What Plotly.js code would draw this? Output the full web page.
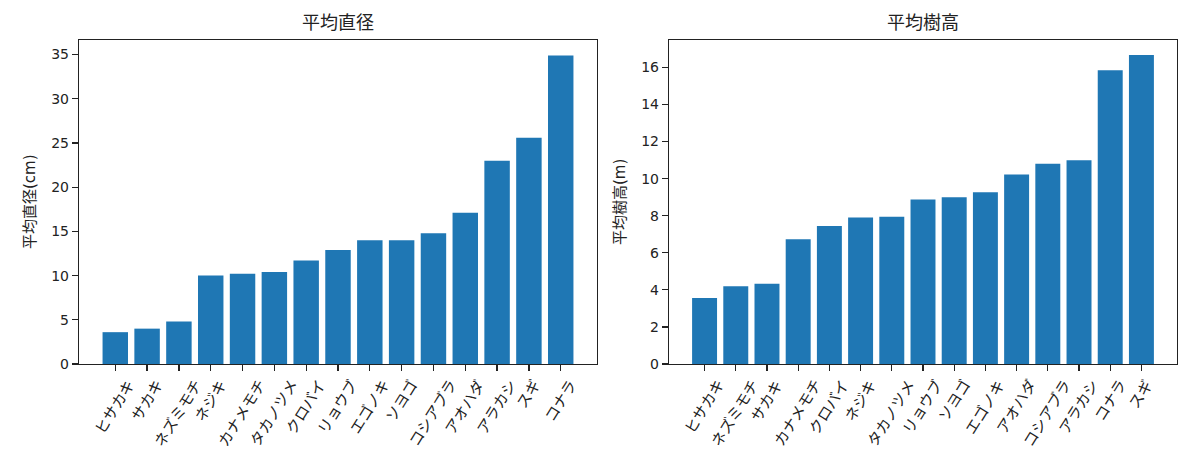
<!DOCTYPE html>
<html>
<head>
<meta charset="utf-8">
<script src="https://cdn.plot.ly/plotly-3.0.1.min.js"></script>
<style>
  html, body { margin: 0; padding: 0; background: #fff; }
  #chart { width: 1200px; height: 465px; }
</style>
</head>
<body>
<div id="chart"></div>
<script>
// 平均直径 (cm), sorted
const diamSpecies = ['ヒサカキ', 'サカキ', 'ネズミモチ', 'ネジキ', 'カナメモチ', 'タカノツメ', 'クロバイ',
  'リョウブ', 'エゴノキ', 'ソヨゴ', 'コシアブラ', 'アオハダ', 'アラカシ', 'スギ', 'コナラ'];
const diamValues = [3.6, 4.0, 4.8, 10.0, 10.2, 10.4, 11.7, 12.9, 14.0, 14.0, 14.8, 17.1, 23.0, 25.6, 34.9];

// 平均樹高 (m), sorted
const heightSpecies = ['ヒサカキ', 'ネズミモチ', 'サカキ', 'カナメモチ', 'クロバイ', 'ネジキ', 'タカノツメ',
  'リョウブ', 'ソヨゴ', 'エゴノキ', 'アオハダ', 'コシアブラ', 'アラカシ', 'コナラ', 'スギ'];
const heightValues = [3.56, 4.2, 4.33, 6.73, 7.45, 7.9, 7.95, 8.87, 8.99, 9.26, 10.23, 10.81, 10.99, 15.85, 16.67];

const BLUE = '#1f77b4';
const jpFont = 'DejaVu Sans, "Noto Sans CJK JP", sans-serif';
const yDom = [1 - 364 / 465, 1 - 40 / 465];

function xLabels(cats, xref) {
  return cats.map(c => ({
    x: c, xref: xref, y: yDom[0], yref: 'paper', yshift: -10,
    text: c, showarrow: false, textangle: -58,
    xanchor: 'center', yanchor: 'top',
    font: { family: jpFont, size: 15, color: '#222' }
  }));
}

function yTitle(text, xpx) {
  return {
    text: text, x: xpx / 1200, y: (yDom[0] + yDom[1]) / 2, xref: 'paper', yref: 'paper',
    showarrow: false, textangle: -90, xanchor: 'center', yanchor: 'middle',
    font: { family: jpFont, size: 15, color: '#222' }
  };
}

function plotTitle(text, xmid) {
  return {
    text: text, x: xmid / 1200, y: yDom[1], xref: 'paper', yref: 'paper', yshift: 5,
    showarrow: false, xanchor: 'center', yanchor: 'bottom',
    font: { family: jpFont, size: 18, color: '#222' }
  };
}

const traces = [
  { type: 'bar', x: diamSpecies, y: diamValues, marker: { color: BLUE }, xaxis: 'x', yaxis: 'y', hoverinfo: 'x+y' },
  { type: 'bar', x: heightSpecies, y: heightValues, marker: { color: BLUE }, xaxis: 'x2', yaxis: 'y2', hoverinfo: 'x+y' }
];

const axisCommon = {
  showline: true, mirror: true, linecolor: '#222', linewidth: 1.2,
  showgrid: false, zeroline: false,
  ticks: 'outside', ticklen: 6, tickcolor: '#222', tickwidth: 1.2,
  tickfont: { family: jpFont, size: 14, color: '#222' }
};

const layout = {
  width: 1200, height: 465,
  margin: { l: 0, r: 0, t: 0, b: 0 },
  paper_bgcolor: '#fff', plot_bgcolor: '#fff',
  showlegend: false, bargap: 0.2,
  xaxis: Object.assign({}, axisCommon, {
    domain: [79 / 1200, 597 / 1200], anchor: 'y', type: 'category',
    range: [-1.14, 15.14], showticklabels: false
  }),
  yaxis: Object.assign({}, axisCommon, {
    domain: yDom, anchor: 'x', range: [0, 36.65], dtick: 5
  }),
  xaxis2: Object.assign({}, axisCommon, {
    domain: [669 / 1200, 1177 / 1200], anchor: 'y2', type: 'category',
    range: [-1.14, 15.14], showticklabels: false
  }),
  yaxis2: Object.assign({}, axisCommon, {
    domain: yDom, anchor: 'x2', range: [0, 17.48], dtick: 2
  }),
  annotations: [
    plotTitle('平均直径', (79 + 597) / 2),
    plotTitle('平均樹高', (669 + 1177) / 2),
    yTitle('平均直径(cm)', 30),
    yTitle('平均樹高(m)', 620)
  ].concat(xLabels(diamSpecies, 'x'), xLabels(heightSpecies, 'x2'))
};

Plotly.newPlot('chart', traces, layout, { displayModeBar: false, staticPlot: true });
</script>
</body>
</html>
